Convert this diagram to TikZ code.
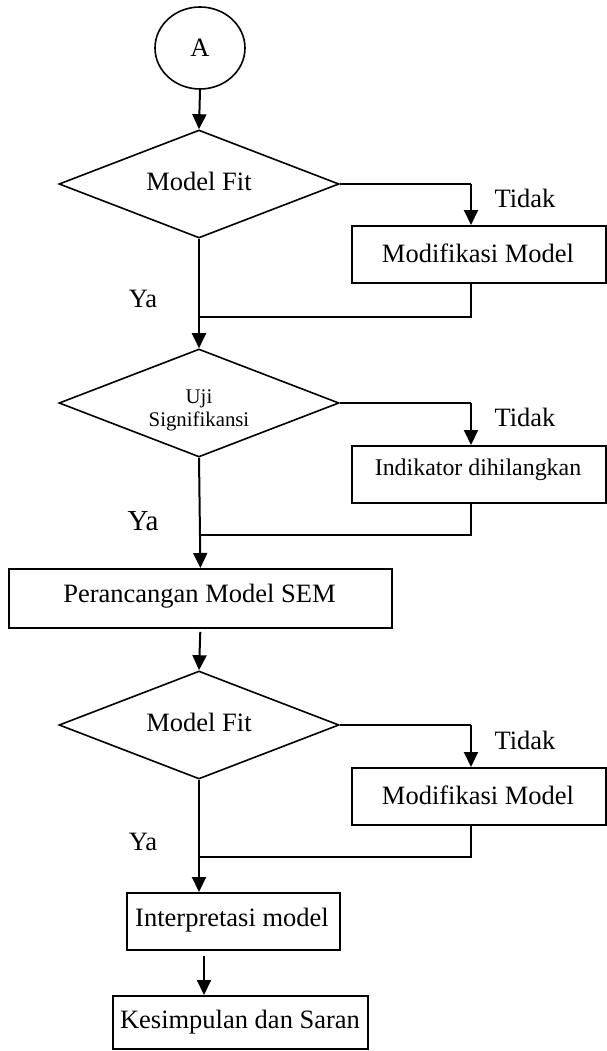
\documentclass[tikz,border=0pt]{standalone}
\usepackage{fontspec}
\setmainfont{Liberation Serif}
\usetikzlibrary{shapes.geometric,arrows.meta,calc}
\begin{document}
\begin{tikzpicture}[x=1pt,y=-1pt,
  every node/.style={font=\fontsize{26.5}{30}\selectfont},
  term/.style={draw,ellipse,line width=1.6pt,minimum width=90pt,minimum height=82pt,inner sep=0pt},
  dec/.style={draw,diamond,line width=1.6pt,inner sep=0pt,aspect=2.6,
    minimum width=280pt,minimum height=108pt},
  proc/.style={draw,line width=1.8pt,inner sep=0pt,anchor=north west},
  flow/.style={line width=2pt,-{Triangle[length=15pt,width=14pt]}},
  branch/.style={line width=1.1pt},
  lbl/.style={inner sep=0pt}
]
\useasboundingbox (0,0) rectangle (607,1051);

% start connector
\node[term] (A) at (200,48) {A};

% first fit check
\node[dec] (d1) at (199,184) {};
\node[lbl] at (199,181) {Model Fit};
\node[proc,minimum width=254pt,minimum height=57pt] (m1) at (351,225) {};
\node[lbl] at (478,253) {Modifikasi Model};
\node[lbl] at (525,198) {Tidak};
\node[lbl] at (143,299) {Ya};

% significance test
\node[dec] (d2) at (199,403) {};
\node[lbl,align=center,font=\fontsize{20.8}{23}\selectfont] at (199,410) {Uji\\Signifikansi};
\node[proc,minimum width=254pt,minimum height=57pt] (m2) at (351,445) {};
\node[lbl,font=\fontsize{23.9}{27}\selectfont] at (478,470) {Indikator dihilangkan};
\node[lbl] at (525,417) {Tidak};
\node[lbl,font=\fontsize{29}{32}\selectfont] at (143,521) {Ya};

% SEM design
\node[proc,minimum width=383pt,minimum height=59pt] (sem) at (8,568) {};
\node[lbl] at (199.5,596) {Perancangan Model SEM};

% second fit check
\node[dec] (d3) at (199,725) {};
\node[lbl] at (199,722) {Model Fit};
\node[proc,minimum width=254pt,minimum height=57pt] (m3) at (351,767) {};
\node[lbl] at (478,795) {Modifikasi Model};
\node[lbl] at (525,740) {Tidak};
\node[lbl] at (143,842) {Ya};

% interpretation and conclusion
\node[proc,minimum width=213pt,minimum height=57pt] (ip) at (126,892) {};
\node[lbl] at (232,920) {Interpretasi model};
\node[proc,minimum width=255pt,minimum height=53pt] (ks) at (112,995) {};
\node[lbl] at (240,1022) {Kesimpulan dan Saran};

% branch points and junctions
\coordinate (t1) at (471,184);
\coordinate (t2) at (471,403);
\coordinate (t3) at (471,725);
\coordinate (j1) at (199,317);
\coordinate (j2) at (199,535);
\coordinate (j3) at (199,857);
\coordinate (k) at (204,0);

% main flow
\draw[flow] (A.south) -- (d1.north);
\draw[flow] (d1.south) -- (d2.north);
\draw[flow] (d2.south) -- (sem.north);
\draw[flow,shorten <=3pt] (sem.south) -- (d3.north);
\draw[flow] (d3.south) -- (d3.south |- ip.north);
\draw[flow,shorten <=5pt] (ip.south -| k) -- (ks.north -| k);

% "Tidak" branches
\draw[branch] (d1.east) -- (t1);
\draw[flow] (t1) -- (t1 |- m1.north);
\draw[branch] (t1 |- m1.south) |- (j1);
\draw[branch] (d2.east) -- (t2);
\draw[flow] (t2) -- (t2 |- m2.north);
\draw[branch] (t2 |- m2.south) |- (j2);
\draw[branch] (d3.east) -- (t3);
\draw[flow] (t3) -- (t3 |- m3.north);
\draw[branch] (t3 |- m3.south) |- (j3);
\end{tikzpicture}
\end{document}
